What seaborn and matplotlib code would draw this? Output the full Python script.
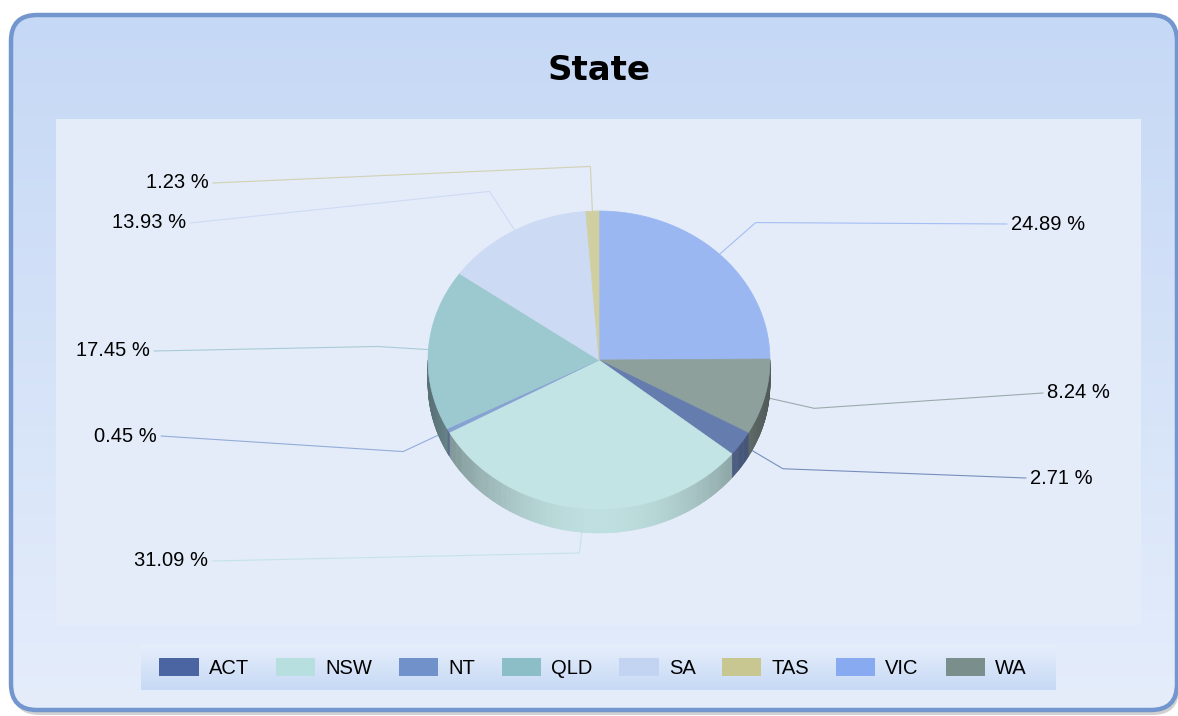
import numpy as np
import matplotlib
matplotlib.use("Agg")
import matplotlib.pyplot as plt
from matplotlib.patches import Polygon, FancyBboxPatch, Rectangle, Patch
import matplotlib.colors as mcolors
import seaborn as sns

# ---------------- data ----------------
title = "State"
states = ["ACT", "NSW", "NT", "QLD", "SA", "TAS", "VIC", "WA"]
shares = [2.71, 31.09, 0.45, 17.45, 13.93, 1.23, 24.89, 8.24]
legend_colors = ["#4a65a1", "#b7dfdf", "#7191cb", "#8bbec7",
                 "#c3d4f2", "#c8c792", "#88aaf0", "#7a8f8b"]
pie_order = ["VIC", "WA", "ACT", "NSW", "NT", "QLD", "SA", "TAS"]  # clockwise from 12 o'clock

# ---------------- layout (pixels) ----------------
W, H = 1178, 716
cx, cy, rx, ry, depth = 599, 360, 171, 149, 24
label_pos = {"TAS": (209, 183, "right"), "SA": (186, 223, "right"),
             "QLD": (150, 351, "right"), "NT": (157, 436, "right"),
             "NSW": (208, 561, "right"), "VIC": (1011, 224, "left"),
             "WA": (1047, 393, "left"), "ACT": (1030, 478, "left")}

sns.set_theme(style="white")
plt.rcParams["font.family"] = ["Liberation Sans", "DejaVu Sans"]
plt.rcParams["text.color"] = "black"
palette = dict(zip(states, sns.color_palette(legend_colors)))
values = dict(zip(states, shares))

fig = plt.figure(figsize=(W / 100, H / 100), dpi=100)
fig.patch.set_facecolor("white")
ax = fig.add_axes([0, 0, 1, 1])
ax.axis("off")


def vgrad(x0, y0, x1, y1, c_top, c_bot, clip=None, z=0):
    t = np.linspace(0, 1, 256)[:, None]
    a = np.array(mcolors.to_rgb(c_top))
    b = np.array(mcolors.to_rgb(c_bot))
    img = (a * (1 - t) + b * t)[:, None, :]
    im = ax.imshow(img, extent=(x0, x1, y1, y0), aspect="auto", zorder=z,
                   interpolation="bilinear")
    if clip is not None:
        im.set_clip_path(clip)
    return im


def mix(c, other, f):
    c = np.array(mcolors.to_rgb(c))
    o = np.array(mcolors.to_rgb(other))
    return tuple(c + (o - c) * f)


# outer rounded panel
shadow = FancyBboxPatch((13, 19), 1166, 696, boxstyle="round,pad=0,rounding_size=26",
                        fc="#9a9a9a", ec="none", alpha=0.45, zorder=0.5)
ax.add_patch(shadow)
outer_clip = FancyBboxPatch((11, 15), 1166, 695, boxstyle="round,pad=0,rounding_size=26",
                            fc="none", ec="none", zorder=1)
ax.add_patch(outer_clip)
vgrad(11, 15, 1177, 710, "#c5d8f5", "#e5edfb", clip=outer_clip, z=1)
outer = FancyBboxPatch((11, 15), 1166, 695, boxstyle="round,pad=0,rounding_size=26",
                       fc="none", ec="#7296cd", lw=3.2, zorder=3)
ax.add_patch(outer)

# plot area
ax.add_patch(Rectangle((56, 119), 1085, 506, fc="#e4ecfa", ec="none", zorder=2))

# legend background
leg_clip = Rectangle((141, 645), 915, 45, fc="none", ec="none", zorder=2)
ax.add_patch(leg_clip)
vgrad(141, 645, 1056, 690, "#e6eefb", "#c6d9f5", clip=leg_clip, z=2)

# title
ax.text(599, 70, title, fontsize=24.5, fontweight="bold", family="DejaVu Sans",
        ha="center", va="center", color="black", zorder=10)

# ---------------- pie ----------------
total = sum(shares)
angles = {}
start = 0.0
for s in pie_order:
    sweep = 360.0 * values[s] / total
    angles[s] = (start, start + sweep)
    start += sweep


def pt(theta, r=1.0, dy=0.0):
    t = np.radians(theta)
    return cx + r * rx * np.sin(t), cy - r * ry * np.cos(t) + dy


# sides (visible between 90 and 270 deg)
for s in pie_order:
    a, b = angles[s]
    lo, hi = max(a, 90), min(b, 270)
    if hi <= lo:
        continue
    top = np.array(mix(palette[s], "white", 0.15))
    edges = np.linspace(lo, hi, max(2, int((hi - lo) / 0.5) + 1))
    for e0, e1 in zip(edges[:-1], edges[1:]):
        m = 0.5 * (e0 + e1)
        c = max(0.0, -np.cos(np.radians(m)))
        f = 0.56 + 0.42 * c ** 2
        col = tuple(np.clip(top * f, 0, 1))
        p0, p1 = pt(e0), pt(e1)
        q1, q0 = pt(e1, dy=depth), pt(e0, dy=depth)
        ax.add_patch(Polygon([p0, p1, q1, q0], closed=True, fc=col, ec=col,
                             lw=0.4, zorder=5))

# top faces
for s in pie_order:
    a, b = angles[s]
    th = np.linspace(a, b, max(2, int((b - a) / 0.5) + 2))
    pts = [(cx, cy)] + [pt(t) for t in th]
    col = mix(palette[s], "white", 0.15)
    ax.add_patch(Polygon(pts, closed=True, fc=col, ec=col, lw=0.5, zorder=6))

# leader lines and labels
for s in pie_order:
    a, b = angles[s]
    mid = 0.5 * (a + b)
    x, y, ha = label_pos[s]
    p_in = pt(mid, 0.85)
    p_el = pt(mid, 1.3)
    xe = x + 4 if ha == "right" else x - 4
    ax.plot([p_in[0], p_el[0], xe], [p_in[1], p_el[1], y],
            color=mix(palette[s], "#e4ecfa", 0.3),
            lw=0.8, zorder=4, solid_joinstyle="miter")
    ax.text(x, y, f"{values[s]:.2f} %", fontsize=14.5, ha=ha, va="center",
            color="black", zorder=10)

ax.set_xlim(0, W)
ax.set_ylim(H, 0)

# legend
handles = [Patch(facecolor=palette[s], edgecolor="none") for s in states]
leg = fig.legend(handles, states, ncol=8, loc="center",
                 bbox_to_anchor=(593 / W, 1 - 668 / H),
                 frameon=False, fontsize=14.5, handlelength=1.95, handleheight=1.0,
                 handletextpad=0.5, columnspacing=1.33, borderpad=0)
for t in leg.get_texts():
    t.set_color("black")

fig.savefig("out.png", dpi=100, facecolor="white")
